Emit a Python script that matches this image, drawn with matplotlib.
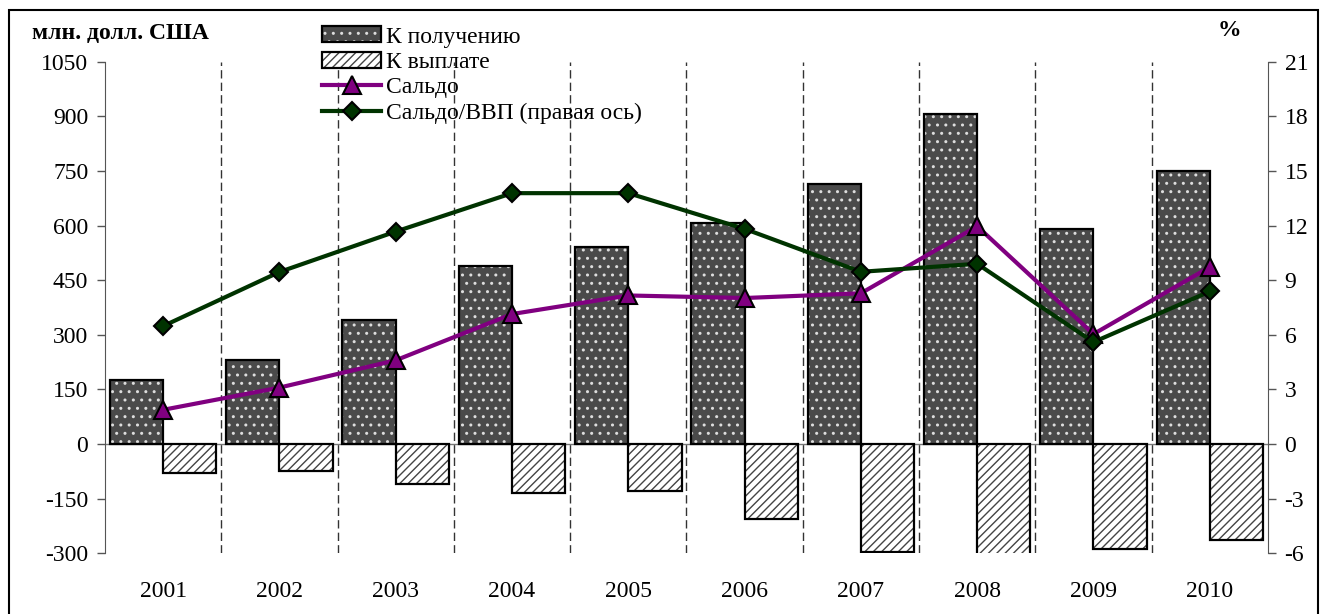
import numpy as np
import matplotlib.pyplot as plt
from matplotlib.patches import Rectangle
from matplotlib.lines import Line2D
from matplotlib.legend_handler import HandlerTuple

plt.rcParams['font.family'] = ['Liberation Serif', 'DejaVu Serif']
plt.rcParams['hatch.linewidth'] = 1.0
plt.rcParams['axes.unicode_minus'] = False

years = ['2001', '2002', '2003', '2004', '2005', '2006', '2007', '2008', '2009', '2010']
receipts = [175, 230, 341, 490, 540, 607, 713, 907, 590, 751]       # К получению
payments = [-80, -75, -110, -134, -130, -205, -296, -307, -288, -264]  # К выплате
saldo = [94, 155, 230, 357, 408, 401, 414, 598, 302, 486]          # Сальдо
saldo_gdp = [6.48, 9.45, 11.67, 13.78, 13.78, 11.82, 9.46, 9.9, 5.6, 8.38]  # Сальдо/ВВП, %

left_ticks = np.arange(-300, 1051, 150)
right_ticks = np.arange(-6, 22, 3)

fig = plt.figure(figsize=(13.26, 6.14), dpi=100)
ax = fig.add_axes([0.0792, 0.0989, 0.877, 0.8006])
x = np.arange(len(years))
w = 0.458

# dotted dark bars: fill + white dots, then black outline
ax.bar(x - w, receipts, w, align='edge', color='#4a4a4a', edgecolor='#dddddd', hatch='..', linewidth=0, zorder=2)
ax.bar(x - w, receipts, w, align='edge', fill=False, edgecolor='black', linewidth=1.6, zorder=3)
ax.bar(x, payments, w, align='edge', color='white', edgecolor='#444444', hatch='////', linewidth=0, zorder=2)
ax.bar(x, payments, w, align='edge', fill=False, edgecolor='black', linewidth=1.6, zorder=3)

ax.axhline(0, color='#777777', lw=1, zorder=1)
for i in range(len(years) - 1):
    ax.axvline(i + 0.5, color='#333333', lw=1, linestyle=(0, (6, 3)), zorder=1)

ax.plot(x, saldo, color='#800080', lw=3, marker='^', ms=13, mfc='#800080', mec='black', mew=1.5, zorder=5)

ax.set_xlim(-0.5, len(years) - 0.5)
ax.set_ylim(-300, 1050)
ax.set_yticks(left_ticks)
ax.set_xticks(x)
ax.set_xticklabels(years)
ax.tick_params(axis='x', length=0, pad=20, labelsize=17)
ax.tick_params(axis='y', direction='out', length=6, width=1, color='#555555', labelsize=17, pad=6)
for s in ['top', 'bottom', 'right']:
    ax.spines[s].set_visible(False)
ax.spines['left'].set_color('#555555')

ax2 = ax.twinx()
ax2.plot(x, saldo_gdp, color='#003300', lw=3, marker='D', ms=9, mfc='#003300', mec='black', mew=1.5, zorder=5)
ax2.set_ylim(-6, 21)
ax2.set_yticks(right_ticks)
ax2.tick_params(axis='y', direction='out', length=6, width=1, color='#555555', labelsize=17, pad=6)
for s in ['top', 'bottom', 'left']:
    ax2.spines[s].set_visible(False)
ax2.spines['right'].set_color('#555555')

# legend
h1 = (Rectangle((0, 0), 1, 1, facecolor='#4a4a4a', edgecolor='#dddddd', hatch='..', linewidth=0),
      Rectangle((0, 0), 1, 1, fill=False, edgecolor='black', linewidth=1.6))
h2 = (Rectangle((0, 0), 1, 1, facecolor='white', edgecolor='#444444', hatch='////', linewidth=0),
      Rectangle((0, 0), 1, 1, fill=False, edgecolor='black', linewidth=1.6))
h3 = Line2D([], [], color='#800080', lw=3, marker='^', ms=13, mfc='#800080', mec='black', mew=1.5)
h4 = Line2D([], [], color='#003300', lw=3, marker='D', ms=9, mfc='#003300', mec='black', mew=1.5)
ax2.legend([h1, h2, h3, h4],
           ['К получению', 'К выплате', 'Сальдо', 'Сальдо/ВВП (правая ось)'],
           handler_map={tuple: HandlerTuple(ndivide=1, pad=0)},
           loc='upper left', bbox_to_anchor=(0.243, 0.957), bbox_transform=fig.transFigure,
           frameon=False, fontsize=17, handlelength=2.5, handletextpad=0.2,
           handleheight=0.65, labelspacing=0.18, borderaxespad=0, borderpad=0)

fig.text(0.024, 0.945, 'млн. долл. США', fontsize=17, fontweight='bold', va='center', ha='left')
fig.text(0.927, 0.950, '%', fontsize=17, fontweight='bold', va='center', ha='center')

fig.patches.append(Rectangle((0.0066, -0.05), 0.9876, 1.0337, transform=fig.transFigure,
                             fill=False, edgecolor='black', linewidth=1.5))

fig.savefig('out.png', dpi=100)
